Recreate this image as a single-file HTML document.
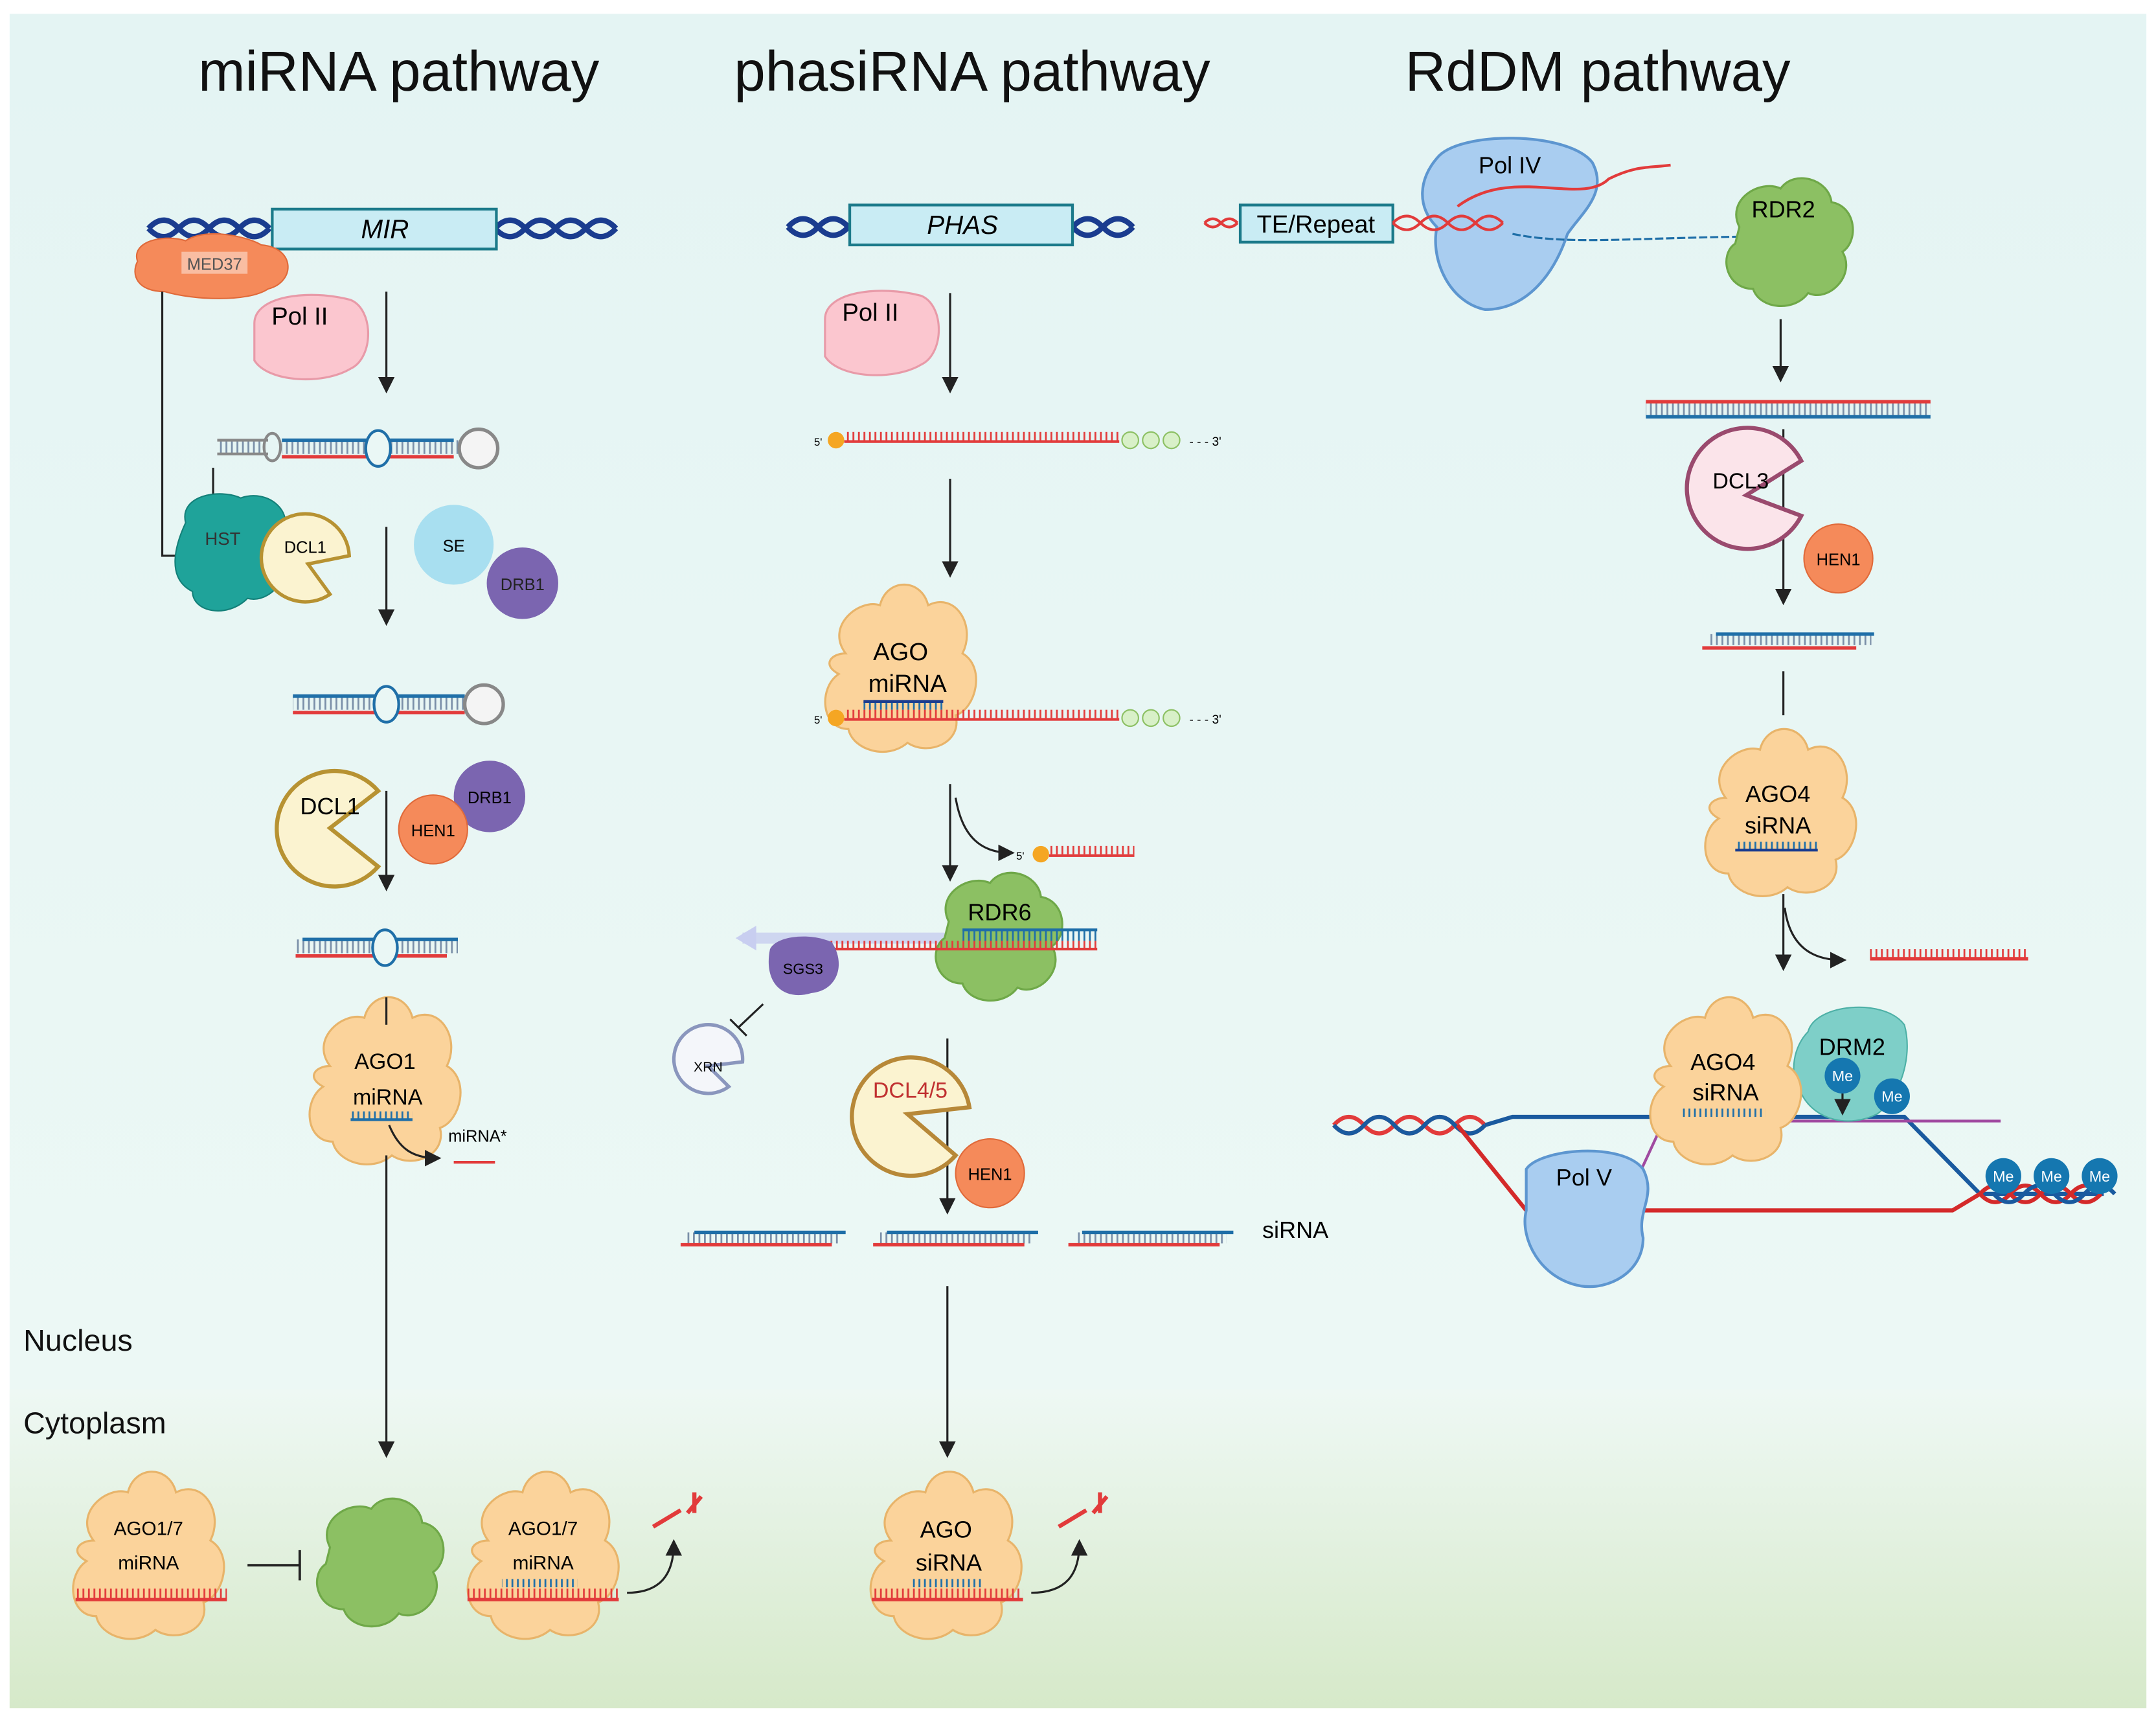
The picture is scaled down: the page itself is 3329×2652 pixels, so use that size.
<!DOCTYPE html>
<html><head><meta charset="utf-8"><style>
html,body{margin:0;padding:0;background:#fff}
svg{display:block}
text{font-family:"Liberation Sans",sans-serif}
</style></head><body>
<svg width="3329" height="2652" viewBox="0 0 1568 1249" xmlns="http://www.w3.org/2000/svg">
<defs>
<linearGradient id="bg" x1="0" y1="0" x2="0" y2="1">
<stop offset="0" stop-color="#e4f4f3"/><stop offset="0.8" stop-color="#ecf8f5"/><stop offset="1" stop-color="#eef8f4"/></linearGradient>
<linearGradient id="cy" x1="0" y1="0" x2="0" y2="1">
<stop offset="0" stop-color="#eef8f4"/><stop offset="1" stop-color="#d6e9c9"/></linearGradient>
<pattern id="tk" width="4" height="10" patternUnits="userSpaceOnUse"><rect x="0" y="0" width="1.3" height="10" fill="#7a8fa8"/></pattern>
<pattern id="tr" width="4" height="10" patternUnits="userSpaceOnUse"><rect x="0" y="0" width="1.3" height="10" fill="#e23b3b"/></pattern>
<pattern id="tb" width="4" height="10" patternUnits="userSpaceOnUse"><rect x="0" y="0" width="1.3" height="10" fill="#1f6fa8"/></pattern>
<marker id="ar" markerWidth="8" markerHeight="8" refX="6" refY="4" orient="auto"><path d="M0,0 L8,4 L0,8 z" fill="#222"/></marker>
<g id="ago"><path d="M-40,-10 C-55,-30 -30,-50 -15,-45 C-10,-65 15,-65 20,-45 C40,-55 55,-30 45,-10 C62,0 55,30 40,35 C45,55 20,65 5,55 C-10,68 -35,60 -38,45 C-58,45 -60,15 -45,5 C-58,-2 -50,-10 -40,-10 z" fill="#fbd39b" stroke="#e8b46a" stroke-width="1.5"/></g>
<g id="grn"><path d="M-35,-10 C-45,-30 -20,-45 -5,-38 C5,-52 30,-45 32,-28 C50,-25 52,0 40,8 C50,25 30,45 15,38 C5,52 -20,50 -25,35 C-45,35 -50,10 -38,2 z" fill="#8cc063" stroke="#6fa848" stroke-width="1.5"/></g>
</defs>
<rect width="1568" height="1249" fill="#fff"/>
<rect x="7" y="10" width="1554" height="1232" fill="url(#bg)"/>
<rect x="7" y="1010" width="1554" height="232" fill="url(#cy)"/>

<text x="290" y="66" font-size="41" text-anchor="middle" fill="#111">miRNA pathway</text>
<text x="707" y="66" font-size="41" text-anchor="middle" fill="#111">phasiRNA pathway</text>
<text x="1162" y="66" font-size="41" text-anchor="middle" fill="#111">RdDM pathway</text>
<text x="17" y="982" font-size="22" fill="#111">Nucleus</text>
<text x="17" y="1042" font-size="22" fill="#111">Cytoplasm</text>

<!-- ===== miRNA ===== -->
<path d="M108,166 q11,-12 22,0 t22,0 t22,0 t22,0 M108,166 q11,12 22,0 t22,0 t22,0 t22,0" stroke="#1a3c8f" stroke-width="4" fill="none"/>
<path d="M360,166 q11,-12 22,0 t22,0 t22,0 t22,0 M360,166 q11,12 22,0 t22,0 t22,0 t22,0" stroke="#1a3c8f" stroke-width="4" fill="none"/>
<rect x="198" y="152" width="163" height="29" fill="#c9ecf4" stroke="#1b7a8a" stroke-width="2"/>
<text x="280" y="173" font-size="19" font-style="italic" text-anchor="middle">MIR</text>
<path d="M100,190 C95,175 120,170 135,175 C150,165 180,172 190,178 C215,180 215,205 195,210 C180,220 140,218 120,212 C100,212 95,200 100,190 z" fill="#f58a5a" stroke="#e06a3a"/>
<rect x="132" y="183" width="48" height="16" fill="#fbd3c0" opacity="0.7"/><text x="156" y="196" font-size="12" text-anchor="middle" fill="#555">MED37</text>
<path d="M118,212 V404 H135 M155,340 V365" stroke="#222" stroke-width="1.5" fill="none"/>
<path d="M185,235 C185,215 225,210 255,218 C272,225 272,260 255,268 C235,280 195,278 185,262 z" fill="#fbc6cf" stroke="#e89aa8" stroke-width="1.5"/>
<text x="218" y="236" font-size="18" text-anchor="middle">Pol II</text>
<line x1="281" y1="212" x2="281" y2="283" stroke="#222" stroke-width="1.5" marker-end="url(#ar)"/>
<rect x="158" y="320" width="35" height="10" fill="url(#tk)"/><line x1="158" y1="320" x2="195" y2="320" stroke="#888" stroke-width="2"/><line x1="158" y1="330" x2="195" y2="330" stroke="#888" stroke-width="2"/>
<ellipse cx="198" cy="325" rx="6" ry="10" fill="none" stroke="#888" stroke-width="2"/>
<rect x="205" y="320" width="125" height="10" fill="url(#tk)"/>
<line x1="205" y1="320" x2="330" y2="320" stroke="#1f6fa8" stroke-width="2.5"/><line x1="205" y1="332" x2="330" y2="332" stroke="#e23b3b" stroke-width="2.5"/>
<ellipse cx="275" cy="326" rx="9" ry="13" fill="#eaf7f5" stroke="#1f6fa8" stroke-width="2"/>
<rect x="330" y="320" width="10" height="10" fill="url(#tk)"/>
<circle cx="348" cy="326" r="14" fill="#f4f4f4" stroke="#888" stroke-width="2.5"/>
<path d="M135,380 C130,360 160,355 175,362 C195,355 215,372 205,390 C218,410 200,440 180,435 C165,450 140,445 140,430 C120,420 128,395 135,380 z" fill="#1fa39a" stroke="#138079"/>
<text x="162" y="396" font-size="13" text-anchor="middle" fill="#333">HST</text>
<path d="M254,404 A32,32 0 1 0 240,432 L224,410 z" fill="#fbf3d0" stroke="#b79232" stroke-width="2.5"/>
<text x="222" y="402" font-size="12" text-anchor="middle">DCL1</text>
<circle cx="330" cy="396" r="29" fill="#a8dff0"/><text x="330" y="401" font-size="12" text-anchor="middle">SE</text>
<circle cx="380" cy="424" r="26" fill="#7b65b0"/><text x="380" y="429" font-size="12" text-anchor="middle" fill="#222">DRB1</text>
<line x1="281" y1="383" x2="281" y2="452" stroke="#222" stroke-width="1.5" marker-end="url(#ar)"/>
<rect x="213" y="506" width="125" height="10" fill="url(#tk)"/>
<line x1="213" y1="506" x2="338" y2="506" stroke="#1f6fa8" stroke-width="2.5"/><line x1="213" y1="518" x2="338" y2="518" stroke="#e23b3b" stroke-width="2.5"/>
<ellipse cx="281" cy="512" rx="9" ry="13" fill="#eaf7f5" stroke="#1f6fa8" stroke-width="2"/>
<circle cx="352" cy="512" r="14" fill="#f4f4f4" stroke="#888" stroke-width="2.5"/>
<path d="M275,630 A42,42 0 1 1 275,575 L240,602 z" fill="#fbf3d0" stroke="#b79232" stroke-width="3"/>
<text x="240" y="592" font-size="17" text-anchor="middle">DCL1</text>
<circle cx="356" cy="579" r="26" fill="#7b65b0"/><text x="356" y="584" font-size="12" text-anchor="middle">DRB1</text>
<circle cx="315" cy="603" r="25" fill="#f58a5a" stroke="#e06a3a"/><text x="315" y="608" font-size="12" text-anchor="middle">HEN1</text>
<line x1="281" y1="575" x2="281" y2="645" stroke="#222" stroke-width="1.5" marker-end="url(#ar)"/>
<rect x="215" y="683" width="118" height="10" fill="url(#tk)"/>
<line x1="220" y1="683" x2="333" y2="683" stroke="#1f6fa8" stroke-width="2.5"/><line x1="215" y1="695" x2="325" y2="695" stroke="#e23b3b" stroke-width="2.5"/>
<ellipse cx="280" cy="689" rx="9" ry="13" fill="#eaf7f5" stroke="#1f6fa8" stroke-width="2"/>
<use href="#ago" x="280" y="785"/>
<text x="280" y="777" font-size="16" text-anchor="middle">AGO1</text>
<text x="282" y="803" font-size="16" text-anchor="middle">miRNA</text>
<rect x="255" y="808" width="45" height="6" fill="url(#tb)"/><line x1="255" y1="814" x2="300" y2="814" stroke="#1f6fa8" stroke-width="2"/>
<path d="M283,818 C290,835 300,842 318,842" stroke="#222" stroke-width="1.5" fill="none" marker-end="url(#ar)"/>
<text x="326" y="830" font-size="12">miRNA*</text>
<path d="M330,845 h30" stroke="#e23b3b" stroke-width="2"/>
<line x1="281" y1="725" x2="281" y2="745" stroke="#222" stroke-width="1.5"/>
<line x1="281" y1="840" x2="281" y2="1057" stroke="#222" stroke-width="1.5" marker-end="url(#ar)"/>
<use href="#ago" x="108" y="1130"/>
<text x="108" y="1116" font-size="14" text-anchor="middle">AGO1/7</text>
<text x="108" y="1141" font-size="14" text-anchor="middle">miRNA</text>
<rect x="55" y="1155" width="110" height="8" fill="url(#tr)"/><line x1="55" y1="1163" x2="165" y2="1163" stroke="#e23b3b" stroke-width="2.5"/>
<use href="#grn" x="275" y="1135"/>
<path d="M180,1138 H218 M218,1127 V1149" stroke="#222" stroke-width="1.8"/>
<use href="#ago" x="395" y="1130"/>
<text x="395" y="1116" font-size="14" text-anchor="middle">AGO1/7</text>
<text x="395" y="1141" font-size="14" text-anchor="middle">miRNA</text>
<rect x="365" y="1148" width="55" height="6" fill="url(#tb)"/>
<rect x="340" y="1155" width="110" height="8" fill="url(#tr)"/><line x1="340" y1="1163" x2="450" y2="1163" stroke="#e23b3b" stroke-width="2.5"/>
<path d="M456,1158 C480,1158 490,1145 490,1122" stroke="#222" stroke-width="1.5" fill="none" marker-end="url(#ar)"/>
<path d="M475,1110 l20,-12 M500,1100 l10,-12 M505,1085 v15" stroke="#e23b3b" stroke-width="3"/>

<!-- ===== phasiRNA ===== -->
<path d="M573,165 q11,-12 22,0 t22,0 M573,165 q11,12 22,0 t22,0" stroke="#1a3c8f" stroke-width="4" fill="none"/>
<path d="M780,165 q11,-12 22,0 t22,0 M780,165 q11,12 22,0 t22,0" stroke="#1a3c8f" stroke-width="4" fill="none"/>
<rect x="618" y="149" width="162" height="29" fill="#c9ecf4" stroke="#1b7a8a" stroke-width="2"/>
<text x="700" y="170" font-size="19" font-style="italic" text-anchor="middle">PHAS</text>
<path d="M600,232 C600,212 640,207 670,215 C687,222 687,257 670,265 C650,277 610,275 600,259 z" fill="#fbc6cf" stroke="#e89aa8" stroke-width="1.5"/>
<text x="633" y="233" font-size="18" text-anchor="middle">Pol II</text>
<line x1="691" y1="213" x2="691" y2="283" stroke="#222" stroke-width="1.5" marker-end="url(#ar)"/>
<text x="592" y="324" font-size="8">5'</text><circle cx="608" cy="320" r="6" fill="#f5a623"/>
<rect x="614" y="314" width="200" height="6" fill="url(#tr)"/><line x1="614" y1="321" x2="814" y2="321" stroke="#e23b3b" stroke-width="2"/>
<circle cx="822" cy="320" r="6" fill="#d8f0c8" stroke="#8cc063"/><circle cx="837" cy="320" r="6" fill="#d8f0c8" stroke="#8cc063"/><circle cx="852" cy="320" r="6" fill="#d8f0c8" stroke="#8cc063"/>
<text x="865" y="324" font-size="9">- - - 3'</text>
<line x1="691" y1="348" x2="691" y2="417" stroke="#222" stroke-width="1.5" marker-end="url(#ar)"/>
<use href="#ago" x="655" y="485"/>
<text x="655" y="480" font-size="18" text-anchor="middle">AGO</text>
<text x="660" y="503" font-size="18" text-anchor="middle">miRNA</text>
<rect x="628" y="510" width="58" height="6" fill="url(#tb)"/><line x1="628" y1="510" x2="686" y2="510" stroke="#1a3c8f" stroke-width="2"/>
<text x="592" y="526" font-size="8">5'</text><circle cx="608" cy="522" r="6" fill="#f5a623"/>
<rect x="614" y="516" width="200" height="6" fill="url(#tr)"/><line x1="614" y1="523" x2="814" y2="523" stroke="#e23b3b" stroke-width="2"/>
<circle cx="822" cy="522" r="6" fill="#d8f0c8" stroke="#8cc063"/><circle cx="837" cy="522" r="6" fill="#d8f0c8" stroke="#8cc063"/><circle cx="852" cy="522" r="6" fill="#d8f0c8" stroke="#8cc063"/>
<text x="865" y="526" font-size="9">- - - 3'</text>
<line x1="691" y1="570" x2="691" y2="638" stroke="#222" stroke-width="1.5" marker-end="url(#ar)"/>
<path d="M695,580 C700,610 715,620 735,620" stroke="#222" stroke-width="1.5" fill="none" marker-end="url(#ar)"/>
<text x="739" y="625" font-size="8">5'</text><circle cx="757" cy="621" r="6" fill="#f5a623"/>
<rect x="763" y="615" width="62" height="6" fill="url(#tr)"/><line x1="763" y1="622" x2="825" y2="622" stroke="#e23b3b" stroke-width="2"/>
<path d="M540,682 L690,682" stroke="#c8cef0" stroke-width="8" opacity="0.8"/><path d="M535,682 l15,-9 v18 z" fill="#c8cef0"/>
<use href="#grn" x="725" y="680"/>
<text x="727" y="669" font-size="17" text-anchor="middle">RDR6</text>
<rect x="700" y="676" width="98" height="8" fill="url(#tb)"/><line x1="700" y1="676" x2="798" y2="676" stroke="#1f6fa8" stroke-width="2"/>
<rect x="600" y="684" width="198" height="6" fill="url(#tr)"/><line x1="600" y1="690" x2="798" y2="690" stroke="#e23b3b" stroke-width="2"/>
<path d="M560,690 C565,680 590,678 605,685 C615,700 610,720 590,722 C570,728 555,715 560,690 z" fill="#7b65b0"/>
<text x="584" y="708" font-size="11" text-anchor="middle">SGS3</text>
<path d="M555,730 L537,747 M531,741 L543,753" stroke="#222" stroke-width="1.5"/>
<path d="M540,772 A25,25 0 1 0 530,790 L515,775 z" fill="#f4f6fa" stroke="#8a96bd" stroke-width="2.5"/>
<text x="515" y="779" font-size="10" text-anchor="middle">XRN</text>
<line x1="689" y1="755" x2="689" y2="880" stroke="#222" stroke-width="1.5" marker-end="url(#ar)"/>
<path d="M695,840 A43,43 0 1 1 705,805 L660,810 z" fill="#fbf3d0" stroke="#b78838" stroke-width="3"/>
<text x="662" y="798" font-size="16" text-anchor="middle" fill="#c03030">DCL4/5</text>
<circle cx="720" cy="853" r="25" fill="#f58a5a" stroke="#e06a3a"/><text x="720" y="858" font-size="12" text-anchor="middle">HEN1</text>
<g>
<rect x="500" y="896" width="110" height="8" fill="url(#tk)"/><line x1="505" y1="896" x2="615" y2="896" stroke="#1f6fa8" stroke-width="2.5"/><line x1="495" y1="905" x2="605" y2="905" stroke="#e23b3b" stroke-width="2.5"/>
<rect x="640" y="896" width="110" height="8" fill="url(#tk)"/><line x1="645" y1="896" x2="755" y2="896" stroke="#1f6fa8" stroke-width="2.5"/><line x1="635" y1="905" x2="745" y2="905" stroke="#e23b3b" stroke-width="2.5"/>
<rect x="782" y="896" width="110" height="8" fill="url(#tk)"/><line x1="787" y1="896" x2="897" y2="896" stroke="#1f6fa8" stroke-width="2.5"/><line x1="777" y1="905" x2="887" y2="905" stroke="#e23b3b" stroke-width="2.5"/>
</g>
<text x="918" y="900" font-size="17">siRNA</text>
<line x1="689" y1="935" x2="689" y2="1057" stroke="#222" stroke-width="1.5" marker-end="url(#ar)"/>
<use href="#ago" x="688" y="1130"/>
<text x="688" y="1118" font-size="17" text-anchor="middle">AGO</text>
<text x="690" y="1142" font-size="17" text-anchor="middle">siRNA</text>
<rect x="662" y="1148" width="52" height="6" fill="url(#tb)"/>
<rect x="634" y="1155" width="110" height="8" fill="url(#tr)"/><line x1="634" y1="1163" x2="744" y2="1163" stroke="#e23b3b" stroke-width="2.5"/>
<path d="M750,1158 C775,1158 785,1145 785,1122" stroke="#222" stroke-width="1.5" fill="none" marker-end="url(#ar)"/>
<path d="M770,1110 l20,-12 M795,1100 l10,-12 M800,1085 v15" stroke="#e23b3b" stroke-width="3"/>

<!-- ===== RdDM ===== -->
<path d="M876,162 q6,-6 12,0 t12,0 M876,162 q6,6 12,0 t12,0" stroke="#e23b3b" stroke-width="2" fill="none"/>
<rect x="902" y="149" width="111" height="27" fill="#c9ecf4" stroke="#1b7a8a" stroke-width="2"/>
<text x="957" y="169" font-size="18" text-anchor="middle">TE/Repeat</text>
<path d="M1045,115 C1060,95 1140,95 1158,118 C1170,140 1150,155 1140,170 C1130,200 1110,225 1080,225 C1055,220 1040,190 1045,165 C1030,150 1032,130 1045,115 z" fill="#a9cdf0" stroke="#5d96d0" stroke-width="2"/>
<text x="1098" y="126" font-size="17" text-anchor="middle">Pol IV</text>
<path d="M1013,162 q10,-10 20,0 t20,0 t20,0 t20,0 M1013,162 q10,10 20,0 t20,0 t20,0 t20,0" stroke="#e23b3b" stroke-width="2" fill="none"/>
<path d="M1060,150 C1100,120 1150,150 1170,130 C1190,120 1200,122 1215,120" stroke="#e23b3b" stroke-width="2" fill="none"/>
<path d="M1100,170 C1150,180 1200,170 1345,172" stroke="#1f6fa8" stroke-width="1.5" fill="none" stroke-dasharray="6 2"/>
<use href="#grn" x="1300" y="175"/>
<text x="1297" y="158" font-size="17" text-anchor="middle">RDR2</text>
<line x1="1295" y1="232" x2="1295" y2="275" stroke="#222" stroke-width="1.5" marker-end="url(#ar)"/>
<rect x="1197" y="292" width="207" height="10" fill="url(#tk)"/>
<line x1="1197" y1="292" x2="1404" y2="292" stroke="#e23b3b" stroke-width="2.5"/><line x1="1197" y1="303" x2="1404" y2="303" stroke="#1f6fa8" stroke-width="2.5"/>
<line x1="1297" y1="312" x2="1297" y2="437" stroke="#222" stroke-width="1.5" marker-end="url(#ar)"/>
<path d="M1310,375 A44,44 0 1 1 1310,335 L1270,360 z" fill="#fbe4ea" stroke="#9a4a6e" stroke-width="3"/>
<text x="1266" y="355" font-size="16" text-anchor="middle">DCL3</text>
<circle cx="1337" cy="406" r="25" fill="#f58a5a" stroke="#e06a3a"/><text x="1337" y="411" font-size="12" text-anchor="middle">HEN1</text>
<rect x="1243" y="461" width="118" height="8" fill="url(#tk)"/><line x1="1248" y1="461" x2="1363" y2="461" stroke="#1f6fa8" stroke-width="2.5"/><line x1="1238" y1="471" x2="1350" y2="471" stroke="#e23b3b" stroke-width="2.5"/>
<line x1="1297" y1="488" x2="1297" y2="520" stroke="#222" stroke-width="1.5"/>
<use href="#ago" x="1295" y="590"/>
<text x="1293" y="583" font-size="17" text-anchor="middle">AGO4</text>
<text x="1293" y="606" font-size="17" text-anchor="middle">siRNA</text>
<rect x="1262" y="612" width="60" height="6" fill="url(#tb)"/><line x1="1262" y1="618" x2="1322" y2="618" stroke="#1a3c8f" stroke-width="2"/>
<line x1="1297" y1="650" x2="1297" y2="703" stroke="#222" stroke-width="1.5" marker-end="url(#ar)"/>
<path d="M1298,660 C1302,690 1320,698 1340,698" stroke="#222" stroke-width="1.5" fill="none" marker-end="url(#ar)"/>
<rect x="1360" y="690" width="115" height="6" fill="url(#tr)"/><line x1="1360" y1="697" x2="1475" y2="697" stroke="#e23b3b" stroke-width="2.5"/>
<path d="M970,818 q11,-12 22,0 t22,0 t22,0 t22,0 t22,0 M970,818 q11,12 22,0 t22,0 t22,0 t22,0 t22,0" stroke="#e23b3b" stroke-width="3" fill="none"/>
<path d="M970,818 q11,12 22,0 t22,0 t22,0 t22,0 t22,0" stroke="#1a5a9f" stroke-width="3" fill="none"/>
<path d="M1080,818 L1100,812 H1385 L1440,868 H1530" stroke="#1a5a9f" stroke-width="3" fill="none"/>
<path d="M1060,818 L1110,880 H1420 L1440,868" stroke="#d42a2a" stroke-width="3" fill="none"/>
<path d="M1440,868 q11,-12 22,0 t22,0 t22,0 t22,0 M1440,868 q11,12 22,0 t22,0 t22,0 t22,0" stroke="#d42a2a" stroke-width="3" fill="none"/>
<path d="M1450,868 q11,12 22,0 t22,0 t22,0 t22,0" stroke="#1a5a9f" stroke-width="3" fill="none"/>
<path d="M1180,880 L1210,815 H1455" stroke="#a04aa0" stroke-width="2" fill="none"/>
<path d="M1110,850 C1120,835 1180,830 1195,850 C1205,870 1190,880 1195,900 C1195,925 1170,938 1150,935 C1120,930 1105,900 1110,880 z" fill="#a9cdf0" stroke="#5d96d0" stroke-width="2"/>
<text x="1152" y="862" font-size="17" text-anchor="middle">Pol V</text>
<path d="M1315,750 C1320,730 1370,725 1385,745 C1392,770 1380,800 1365,810 C1345,820 1320,815 1310,795 C1300,780 1305,760 1315,750 z" fill="#7ecfc8" stroke="#4db0a6"/>
<text x="1347" y="767" font-size="17" text-anchor="middle">DRM2</text>
<use href="#ago" x="1255" y="785"/>
<text x="1253" y="778" font-size="17" text-anchor="middle">AGO4</text>
<text x="1255" y="800" font-size="17" text-anchor="middle">siRNA</text>
<rect x="1222" y="806" width="62" height="6" fill="url(#tb)"/>
<g font-size="11" text-anchor="middle" fill="#fff">
<circle cx="1340" cy="782" r="13" fill="#1577b0"/><text x="1340" y="786">Me</text>
<circle cx="1376" cy="797" r="13" fill="#1577b0"/><text x="1376" y="801">Me</text>
<circle cx="1457" cy="855" r="13" fill="#1577b0"/><text x="1457" y="859">Me</text>
<circle cx="1492" cy="855" r="13" fill="#1577b0"/><text x="1492" y="859">Me</text>
<circle cx="1527" cy="855" r="13" fill="#1577b0"/><text x="1527" y="859">Me</text>
</g>
<line x1="1340" y1="795" x2="1340" y2="808" stroke="#222" stroke-width="1.5" marker-end="url(#ar)"/>
</svg>
</body></html>
